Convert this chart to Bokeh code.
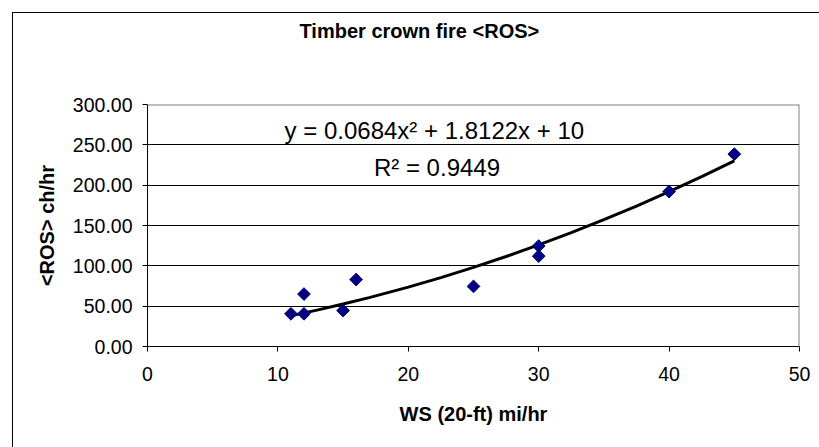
import math
from bokeh.plotting import figure
from bokeh.models import (Range1d, FixedTicker, NumeralTickFormatter, Label, Span,
                          Title, ColumnDataSource)
from bokeh.embed import file_html
from bokeh.resources import INLINE

# ---- data ----
ws = [11, 12, 12, 15, 16, 25, 30, 30, 40, 45]
ros = [40.5, 40.5, 65, 44.5, 83, 74.5, 124.5, 112, 192, 238.5]

trend_x = [11, 13, 15, 17, 20, 22.5, 25, 27.5, 30, 32.5, 35, 37.5, 40, 42.5, 45]
trend_y = [38.2, 45.1, 52.6, 60.6, 73.6, 85.4, 98.1, 111.6, 125.9, 141.1, 157.2,
           174.1, 191.9, 210.6, 230.1]

x_ticks = [0, 10, 20, 30, 40, 50]
y_ticks = [0, 50, 100, 150, 200, 250, 300]

title_text = "Timber crown fire <ROS>"
x_title = "WS (20-ft) mi/hr"
y_title = "<ROS> ch/hr"
eq_text = "y = 0.0684x\u00b2 + 1.8122x + 10"
r2_text = "R\u00b2 = 0.9449"

FONT = "Liberation Sans"

p = figure(width=819, height=447, output_backend="svg", toolbar_location=None,
           x_range=Range1d(0, 50), y_range=Range1d(0, 300),
           min_border_left=147, min_border_right=20, min_border_top=104,
           min_border_bottom=101)
p.outline_line_color = None
p.background_fill_color = "white"
p.border_fill_color = None
p.styles = {
    "background-color": "white",
    "background-image": "linear-gradient(#000, #000), linear-gradient(#000, #000)",
    "background-size": "1px 100%, 100% 1px",
    "background-position": "12px 12px, 12px 12px",
    "background-repeat": "no-repeat",
}

# spacer between frame and title, then the title itself
p.add_layout(Title(text=" ", text_font_size="1px", standoff=60), "above")
p.add_layout(Title(text=title_text, align="left", offset=152, standoff=0,
                   text_font=FONT, text_font_size="20px", text_font_style="bold",
                   text_color="black"), "above")

# axes
for ax in (p.xaxis[0], p.yaxis[0]):
    ax.axis_line_color = "black"
    ax.axis_line_width = 1
    ax.major_tick_line_color = "black"
    ax.major_tick_in = 0
    ax.major_tick_out = 5
    ax.minor_tick_line_color = None
    ax.major_label_text_font = FONT
    ax.major_label_text_font_size = "19.5px"
    ax.major_label_text_color = "black"
    ax.axis_label_text_font = FONT
    ax.axis_label_text_font_size = "20px"
    ax.axis_label_text_font_style = "bold"
    ax.axis_label_text_color = "black"

p.xaxis[0].ticker = FixedTicker(ticks=x_ticks)
p.yaxis[0].ticker = FixedTicker(ticks=y_ticks)
p.yaxis[0].formatter = NumeralTickFormatter(format="0.00")
p.xaxis[0].axis_label = x_title
p.yaxis[0].axis_label = y_title
p.xaxis[0].major_label_standoff = 15
p.yaxis[0].major_label_standoff = 10
p.xaxis[0].axis_label_standoff = 19
p.yaxis[0].axis_label_standoff = 12

# grid
p.xgrid.grid_line_color = None
p.ygrid.ticker = FixedTicker(ticks=y_ticks[1:-1])
p.ygrid.grid_line_color = "black"
p.ygrid.grid_line_width = 1

# gray plot-area border (top and right)
p.add_layout(Span(location=300, dimension="width", line_color="#808080", line_width=2))
p.add_layout(Span(location=50, dimension="height", line_color="#808080", line_width=2))

# trendline and points
p.line(trend_x, trend_y, line_color="black", line_width=3)
src = ColumnDataSource(dict(x=ws, y=ros))
p.scatter("x", "y", source=src, marker="square", angle=math.pi / 4, size=9,
          fill_color="#000080", line_color="#000080")

# equation labels
p.add_layout(Label(x=22.0, y=267.8, text=eq_text, text_align="center",
                   text_baseline="middle", text_font=FONT, text_font_size="24px",
                   text_color="black"))
p.add_layout(Label(x=22.2, y=221.9, text=r2_text, text_align="center",
                   text_baseline="middle", text_font=FONT, text_font_size="24px",
                   text_color="black"))

open("out.html", "w").write(file_html(p, INLINE))
